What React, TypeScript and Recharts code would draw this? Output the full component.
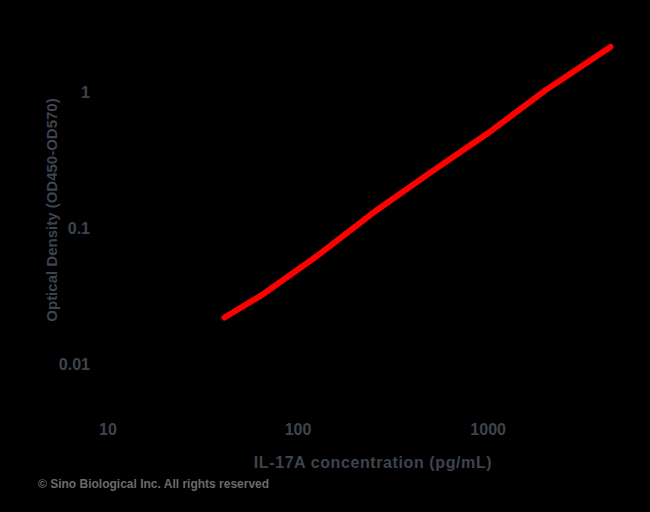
import { LineChart, Line, XAxis, YAxis } from 'recharts';

// concentration (pg/mL) vs. OD
const concentration = [41, 64, 125, 260, 505, 1000, 2000, 4400];
const opticalDensity = [0.022, 0.032, 0.062, 0.136, 0.26, 0.5, 1.03, 2.15];
const xTicks = [10, 100, 1000];
const yTicks = [0.01, 0.1, 1];

const data = concentration.map((c, i) => ({ conc: c, od: opticalDensity[i] }));

const font = 'Liberation Sans, Arial, sans-serif';
const textColor = '#3d4450';
const tickStyle = { fill: textColor, fontSize: 16, fontWeight: 700, fontFamily: font };

export default function App() {
  return (
    <div style={{ position: 'absolute', left: 0, top: 0, width: 650, height: 512, background: '#000', overflow: 'hidden' }}>
      <LineChart width={650} height={512} data={data} margin={{ top: 38, right: 29, left: 8, bottom: 77 }}>
        <XAxis
          dataKey="conc"
          type="number"
          scale="log"
          domain={[10, 5000]}
          allowDataOverflow
          ticks={xTicks}
          tick={tickStyle}
          axisLine={false}
          tickLine={false}
          tickMargin={13}
          height={30}
        />
        <YAxis
          type="number"
          scale="log"
          domain={[0.005, 2.5]}
          allowDataOverflow
          ticks={yTicks}
          tick={tickStyle}
          tickFormatter={(v) => String(v)}
          axisLine={false}
          tickLine={false}
          tickMargin={12}
          width={100}
        />
        <Line
          dataKey="od"
          type="linear"
          stroke="#ff0000"
          strokeWidth={6}
          strokeLinecap="round"
          dot={false}
          isAnimationActive={false}
        />
      </LineChart>
      <div
        style={{
          position: 'absolute',
          left: 51,
          top: 210,
          transform: 'translate(-50%, -50%) rotate(-90deg)',
          whiteSpace: 'nowrap',
          color: textColor,
          fontSize: 15,
          fontWeight: 700,
          fontFamily: font,
        }}
      >
        Optical Density (OD450-OD570)
      </div>
      <div
        style={{
          position: 'absolute',
          left: 373,
          top: 463,
          transform: 'translate(-50%, -50%)',
          whiteSpace: 'nowrap',
          color: textColor,
          fontSize: 16,
          fontWeight: 700,
          letterSpacing: 0.6,
          fontFamily: font,
        }}
      >
        IL-17A concentration (pg/mL)
      </div>
      <div
        style={{
          position: 'absolute',
          left: 38,
          top: 477,
          whiteSpace: 'nowrap',
          color: '#6b6b6b',
          fontSize: 12,
          fontWeight: 700,
          fontFamily: font,
        }}
      >
        © Sino Biological Inc. All rights reserved
      </div>
    </div>
  );
}
